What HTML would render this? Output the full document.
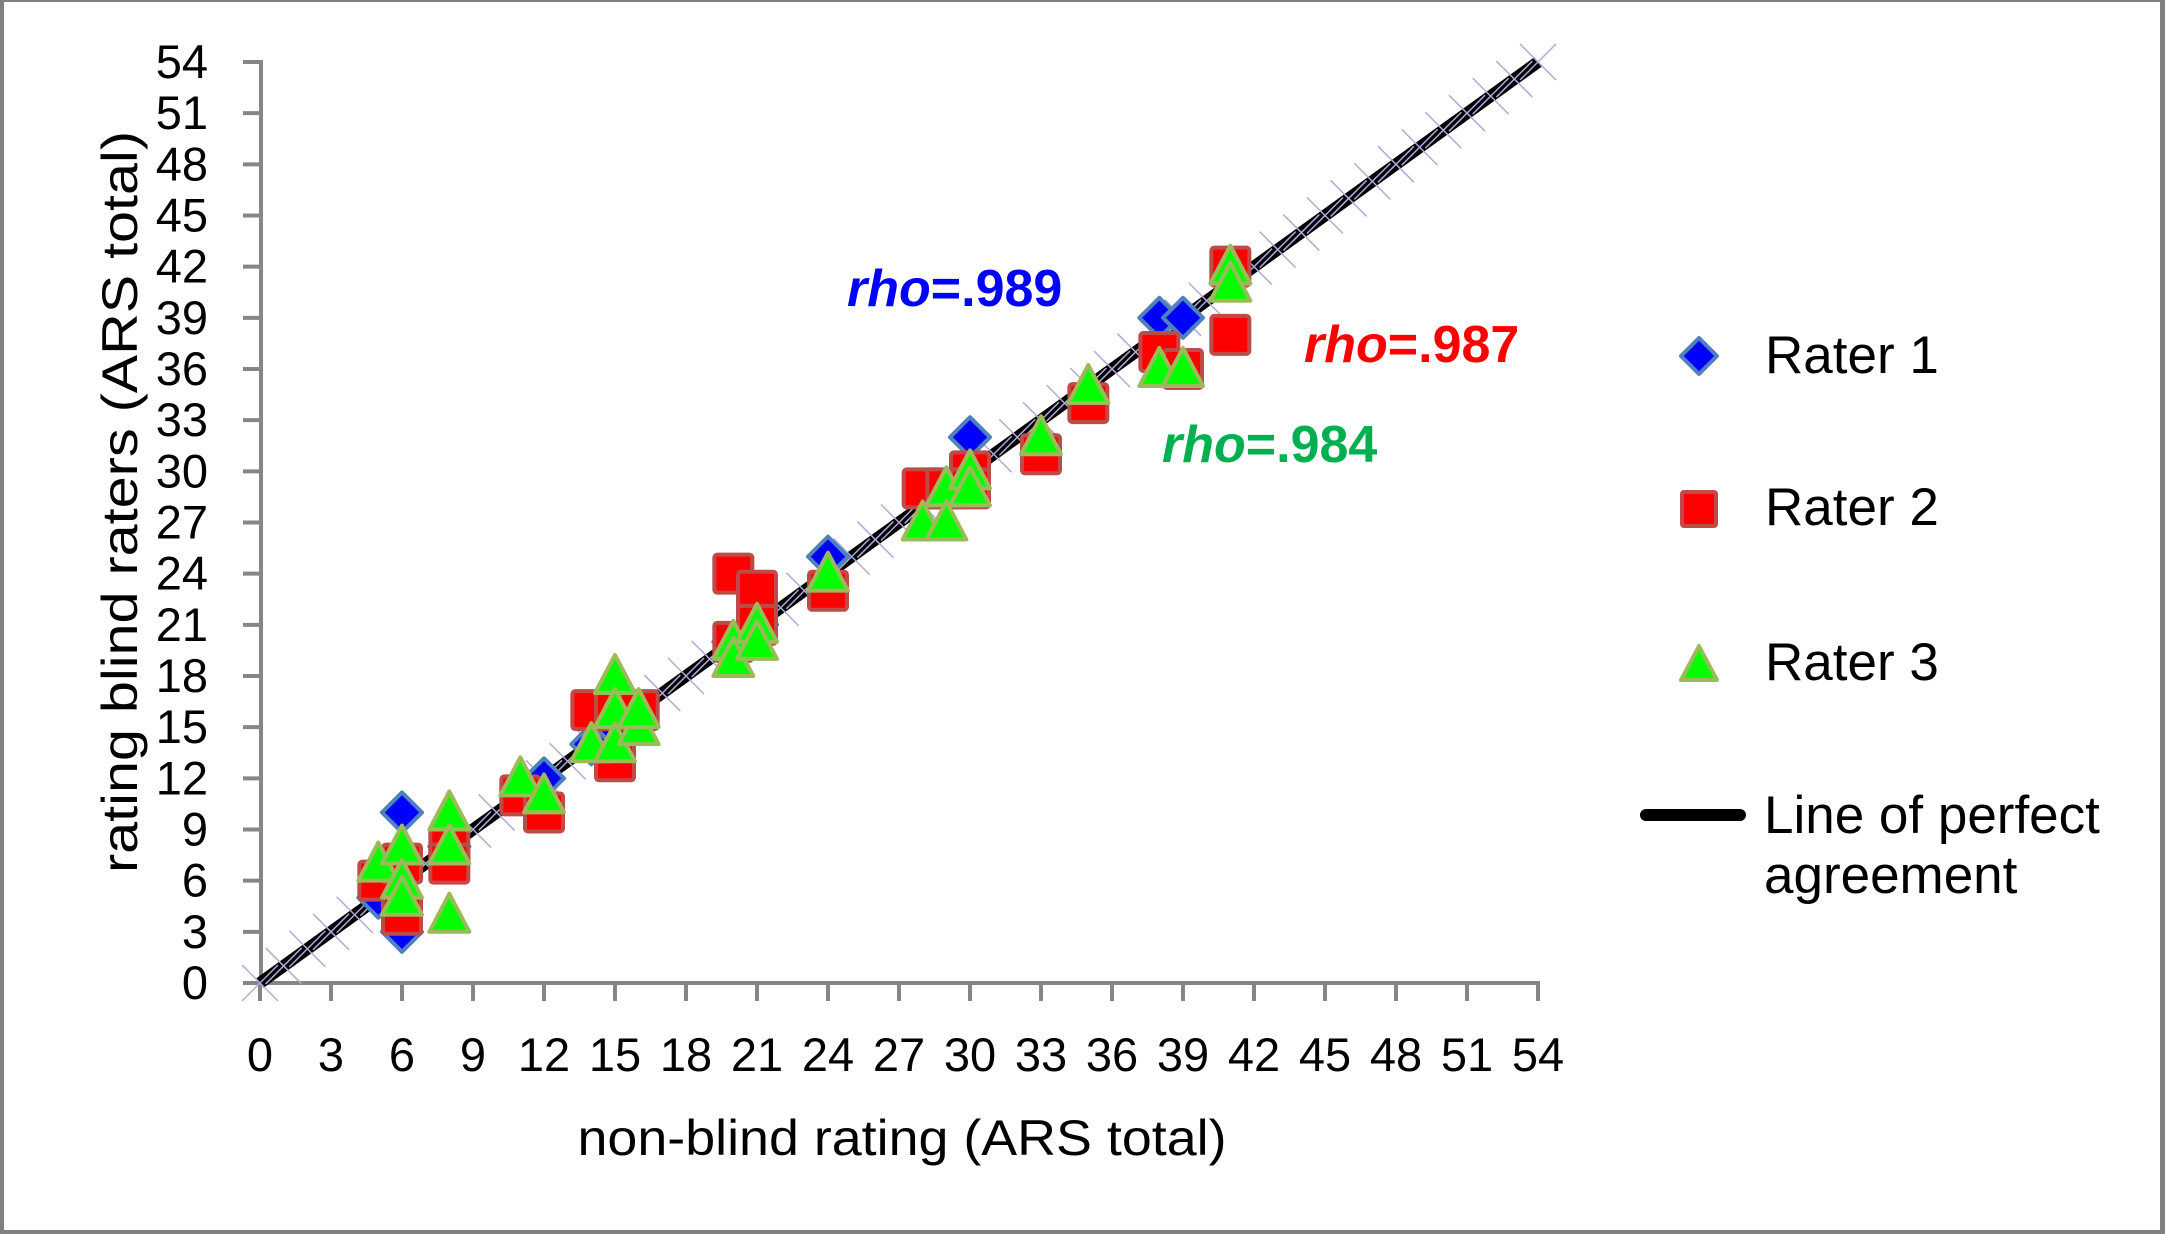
<!DOCTYPE html>
<html><head><meta charset="utf-8"><style>
html,body{margin:0;padding:0;background:#fff}
svg{display:block}
text{font-family:"Liberation Sans",Arial,sans-serif;fill:#000}
</style></head><body>
<svg id="s" width="2165" height="1234" viewBox="0 0 2165 1234" xmlns="http://www.w3.org/2000/svg">
<rect x="0" y="0" width="2165" height="1234" fill="#808080"/>
<rect x="4" y="2" width="2156" height="1228" fill="#fff"/>
<g id="ax" stroke="#868686" stroke-width="4" fill="none"></g>
<g id="lbl" font-size="47"></g>
<g id="diag"></g>
<g id="pts"></g>
<text x="902" y="1155" font-size="50" text-anchor="middle" textLength="649" lengthAdjust="spacingAndGlyphs">non-blind rating (ARS total)</text>
<text transform="translate(137,502) rotate(-90)" font-size="50" text-anchor="middle" textLength="742" lengthAdjust="spacingAndGlyphs">rating blind raters (ARS total)</text>
<text x="847" y="306" font-size="52" font-weight="bold" style="fill:#0000ff"><tspan font-style="italic" style="fill:#0000ff">rho</tspan>=.989</text>
<text x="1304" y="362" font-size="52" font-weight="bold" style="fill:#ff0000"><tspan font-style="italic" style="fill:#ff0000">rho</tspan>=.987</text>
<text x="1162" y="462" font-size="52" font-weight="bold" style="fill:#00b050"><tspan font-style="italic" style="fill:#00b050">rho</tspan>=.984</text>
<polygon points="1699,338 1717,356 1699,374 1681,356" fill="#0000ff" stroke="#4f81bd" stroke-width="4" stroke-linejoin="round"/>
<rect x="1682" y="492" width="34" height="34" rx="2" fill="#ff0000" stroke="#be4b48" stroke-width="4"/>
<polygon points="1699,646 1717,680 1681,680" fill="#00ff00" stroke="#9bbb59" stroke-width="4" stroke-linejoin="round"/>
<text x="1765" y="373" font-size="53">Rater 1</text>
<text x="1765" y="525" font-size="53">Rater 2</text>
<text x="1765" y="680" font-size="53">Rater 3</text>
<line x1="1646" y1="815" x2="1740" y2="815" stroke="#000" stroke-width="12" stroke-linecap="round"/>
<text x="1764" y="833" font-size="53">Line of perfect</text>
<text x="1764" y="893" font-size="53">agreement</text>
</svg>
<script>
var NS="http://www.w3.org/2000/svg";
function X(v){return 260+v*(1278/54);}
function Y(v){return 983-v*(921/54);}
function el(p,t,a,txt){var e=document.createElementNS(NS,t);for(var k in a)e.setAttribute(k,a[k]);if(txt!=null)e.textContent=txt;p.appendChild(e);return e;}
var ax=document.getElementById('ax'),lb=document.getElementById('lbl');
el(ax,'line',{x1:261,y1:60,x2:261,y2:985});
el(ax,'line',{x1:259,y1:983,x2:1540,y2:983});
for(var v=0;v<=54;v+=3){
  var y=Y(v),x=X(v);
  el(ax,'line',{x1:243,y1:y,x2:261,y2:y});
  el(ax,'line',{x1:x,y1:983,x2:x,y2:1001});
  el(lb,'text',{x:208,y:y+16,'text-anchor':'end'},String(v));
  el(lb,'text',{x:x,y:1071,'text-anchor':'middle'},String(v));
}
var dg=document.getElementById('diag');
el(dg,'line',{x1:X(0),y1:Y(0),x2:X(54),y2:Y(54),stroke:'#000','stroke-width':12});
for(var v=0;v<=54;v++){
  var x=X(v),y=Y(v),h=18;
  el(dg,'line',{x1:x-h,y1:y-h,x2:x+h,y2:y+h,stroke:'#b3a8da','stroke-width':1.5});
  el(dg,'line',{x1:x-h,y1:y+h,x2:x+h,y2:y-h,stroke:'#b3a8da','stroke-width':1.5});
}
var r1=[[5,5],[6,3],[6,10],[12,12],[14,14],[15,15],[24,25],[30,32],[38,39],[39,39],[20,20],[21,21],[8,8]];
var r2=[[5,6],[6,7],[6,4],[8,8],[8,7],[11,11],[12,10],[14,16],[15,13],[15,16],[16,16],[20,24],[20,20],[21,23],[21,21],[24,23],[28,29],[29,29],[30,30],[30,29],[33,31],[35,34],[38,37],[39,36],[41,42],[41,38]];
var r3=[[5,7],[6,8],[6,6],[6,5],[8,10],[8,8],[8,4],[11,12],[12,11],[14,14],[15,18],[15,16],[15,14],[16,15],[16,16],[20,20],[20,19],[21,21],[21,20],[24,24],[28,27],[29,29],[29,27],[30,30],[30,29],[33,32],[35,35],[38,36],[39,36],[41,42],[41,41]];
var P=document.getElementById('pts');
r1.forEach(function(p){var x=X(p[0]),y=Y(p[1]),d=20;
 el(P,'polygon',{points:[x,y-d,x+d,y,x,y+d,x-d,y].join(','),fill:'#0000ff',stroke:'#4f81bd','stroke-width':4,'stroke-linejoin':'round'});});
r2.forEach(function(p){var x=X(p[0]),y=Y(p[1]);
 el(P,'rect',{x:x-19,y:y-19,width:38,height:38,rx:3,fill:'#ff0000',stroke:'#be4b48','stroke-width':4});});
r3.forEach(function(p){var x=X(p[0]),y=Y(p[1]);
 el(P,'polygon',{points:[x,y-21,x+20,y+17,x-20,y+17].join(','),fill:'#00ff00',stroke:'#9bbb59','stroke-width':4,'stroke-linejoin':'round'});});
</script>
</body></html>
